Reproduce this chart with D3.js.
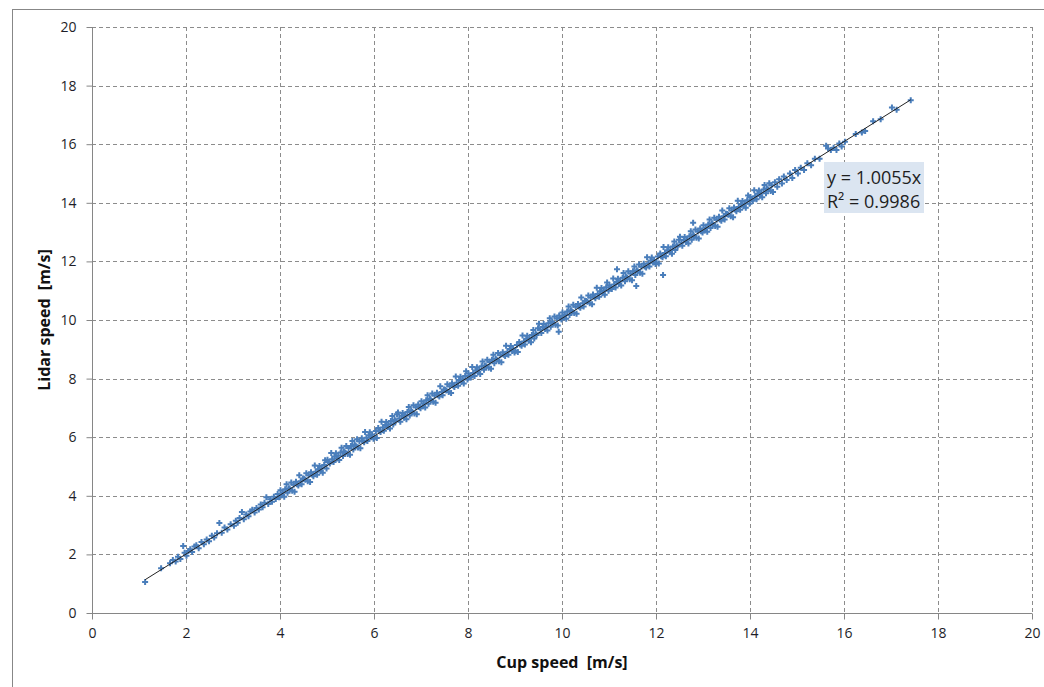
<!DOCTYPE html>
<html>
<head>
<meta charset="utf-8">
<script src="https://cdn.jsdelivr.net/npm/d3@7"></script>
<style>
  html, body { margin: 0; padding: 0; background: #fff; }
  svg { display: block; }
</style>
</head>
<body>
<div id="chart"></div>
<script>
"use strict";

// cup anemometer speed vs lidar speed, [cup, lidar] in m/s
var lowSpeed = [
  [1.13,1.06],[1.47,1.53],[1.66,1.70],[1.72,1.81],[1.78,1.76],[1.83,1.92],[1.88,1.84],[1.94,2.29],[1.97,2.06],[2.01,1.95],
  [2.05,2.12],[2.09,2.18],[2.13,2.08],[2.18,2.27],[2.22,2.31],[2.27,2.21],[2.33,2.42],[2.38,2.35],[2.44,2.51],[2.49,2.45],
  [2.55,2.64],[2.60,2.58],[2.66,2.72],[2.71,3.07],[2.76,2.74],[2.82,2.92],[2.88,2.85],[2.95,3.03],
  [3.02,2.98],[3.06,3.15],[3.10,3.08],[3.14,3.24],[3.19,3.45],[3.23,3.20],[3.28,3.36],[3.33,3.30],[3.37,3.46],[3.41,3.52],
  [3.46,3.43],[3.50,3.58],[3.55,3.53],[3.59,3.70],[3.63,3.61],[3.67,3.76],[3.71,3.95],[3.75,3.72],[3.79,3.88],[3.83,3.80],
  [3.87,3.97],[3.91,3.89],[3.95,4.06],[3.98,3.95]
];

var band4to8 = [
  [4.01,4.19],[4.04,4.02],[4.06,4.11],[4.09,3.97],[4.11,4.22],[4.14,4.39],[4.16,4.10],[4.19,4.26],[4.21,4.22],[4.24,4.45],
  [4.26,4.17],[4.29,4.38],[4.31,4.14],[4.34,4.48],[4.36,4.39],[4.39,4.35],[4.41,4.70],[4.44,4.50],[4.46,4.39],[4.49,4.59],
  [4.51,4.58],[4.54,4.55],[4.56,4.77],[4.59,4.50],[4.61,4.70],[4.64,4.47],[4.66,4.80],[4.69,4.72],[4.71,4.67],[4.74,5.03],
  [4.76,4.82],[4.79,4.72],[4.81,4.91],[4.84,5.02],[4.86,4.84],[4.89,4.94],[4.91,4.79],[4.94,5.05],[4.96,5.21],[4.99,4.93],
  [5.01,5.23],[5.04,5.15],[5.06,5.10],[5.09,5.46],[5.11,5.25],[5.14,5.15],[5.16,5.34],[5.19,5.45],[5.21,5.27],[5.24,5.37],
  [5.26,5.22],[5.29,5.48],[5.31,5.64],[5.34,5.36],[5.36,5.51],[5.39,5.48],[5.41,5.70],[5.44,5.43],[5.46,5.63],[5.49,5.40],
  [5.51,5.70],[5.54,5.87],[5.56,5.58],[5.59,5.74],[5.61,5.70],[5.64,5.93],[5.66,5.65],[5.69,5.86],[5.71,5.62],[5.74,5.96],
  [5.76,5.87],[5.79,5.83],[5.81,6.18],[5.84,5.98],[5.86,5.87],[5.89,6.07],[5.91,6.17],[5.94,6.00],[5.96,6.09],[5.99,5.95],
  [6.01,6.00],[6.04,6.21],[6.06,5.97],[6.09,6.31],[6.11,6.22],[6.14,6.18],[6.16,6.53],[6.19,6.33],[6.21,6.22],[6.24,6.42],
  [6.26,6.52],[6.29,6.35],[6.31,6.44],[6.34,6.30],[6.36,6.55],[6.39,6.72],[6.41,6.43],[6.44,6.59],[6.46,6.55],[6.49,6.78],
  [6.51,6.84],[6.54,6.64],[6.56,6.53],[6.59,6.73],[6.61,6.83],[6.64,6.66],[6.66,6.75],[6.69,6.61],[6.71,6.86],[6.74,7.03],
  [6.76,6.74],[6.79,6.90],[6.81,6.86],[6.84,7.09],[6.86,6.81],[6.89,7.02],[6.91,6.78],[6.94,7.12],[6.96,7.03],[6.99,6.99],
  [7.01,7.23],[7.04,7.06],[7.06,7.15],[7.09,7.01],[7.11,7.26],[7.14,7.43],[7.16,7.14],[7.19,7.30],[7.21,7.26],[7.24,7.49],
  [7.26,7.21],[7.29,7.42],[7.31,7.18],[7.34,7.52],[7.36,7.43],[7.39,7.39],[7.41,7.74],[7.44,7.54],[7.46,7.43],[7.49,7.63],
  [7.51,7.62],[7.54,7.59],[7.56,7.81],[7.59,7.54],[7.61,7.74],[7.64,7.51],[7.66,7.84],[7.69,7.76],[7.71,7.71],[7.74,8.07],
  [7.76,7.86],[7.79,7.76],[7.81,7.95],[7.84,8.06],[7.86,7.88],[7.89,7.98],[7.91,7.83],[7.94,8.09],[7.96,8.25],[7.99,7.97]
];

var band8to12 = [
  [8.01,8.17],[8.04,8.09],[8.06,8.04],[8.09,8.40],[8.11,8.19],[8.14,8.09],[8.16,8.28],[8.19,8.39],[8.21,8.21],[8.24,8.31],
  [8.26,8.16],[8.29,8.42],[8.31,8.58],[8.34,8.30],[8.36,8.45],[8.39,8.42],[8.41,8.64],[8.44,8.37],[8.46,8.57],[8.49,8.34],
  [8.51,8.64],[8.54,8.81],[8.56,8.52],[8.59,8.68],[8.61,8.64],[8.64,8.87],[8.66,8.59],[8.69,8.80],[8.71,8.56],[8.74,8.90],
  [8.76,8.81],[8.79,8.77],[8.81,9.12],[8.84,8.92],[8.86,8.81],[8.89,9.01],[8.91,9.11],[8.94,8.94],[8.96,9.03],[8.99,8.89],
  [9.01,8.94],[9.04,9.15],[9.06,8.91],[9.09,9.25],[9.11,9.16],[9.14,9.12],[9.16,9.47],[9.19,9.27],[9.21,9.16],[9.24,9.36],
  [9.26,9.46],[9.29,9.29],[9.31,9.38],[9.34,9.24],[9.36,9.49],[9.39,9.66],[9.41,9.37],[9.44,9.53],[9.46,9.49],[9.49,9.72],
  [9.51,9.87],[9.54,9.67],[9.56,9.56],[9.59,9.76],[9.61,9.86],[9.64,9.69],[9.66,9.78],[9.69,9.64],[9.71,9.89],[9.74,10.06],
  [9.76,9.77],[9.79,9.93],[9.81,9.89],[9.84,10.12],[9.86,9.84],[9.89,10.05],[9.91,9.81],[9.93,9.60],[9.94,10.15],[9.96,10.06],
  [9.99,10.02],
  [10.01,10.26],[10.04,10.09],[10.06,10.18],[10.09,10.04],[10.11,10.29],[10.14,10.46],[10.16,10.17],[10.19,10.33],[10.21,10.29],[10.24,10.52],
  [10.26,10.24],[10.29,10.45],[10.31,10.21],[10.34,10.55],[10.36,10.46],[10.39,10.42],[10.41,10.77],[10.44,10.57],[10.46,10.46],[10.49,10.66],
  [10.51,10.65],[10.54,10.62],[10.56,10.84],[10.59,10.57],[10.61,10.77],[10.64,10.54],[10.66,10.87],[10.69,10.79],[10.71,10.74],[10.74,11.10],
  [10.76,10.89],[10.79,10.79],[10.81,10.98],[10.84,11.09],[10.86,10.91],[10.89,11.01],[10.91,10.86],[10.94,11.12],[10.96,11.28],[10.99,11.00],
  [11.01,11.19],[11.04,11.11],[11.06,11.06],[11.09,11.42],[11.11,11.21],[11.14,11.11],[11.16,11.30],[11.17,11.73],[11.19,11.41],[11.21,11.23],
  [11.24,11.33],[11.26,11.18],[11.29,11.44],[11.31,11.60],[11.34,11.32],[11.36,11.47],[11.39,11.44],[11.41,11.66],[11.44,11.39],[11.46,11.59],
  [11.49,11.36],
  [11.51,11.66],[11.54,11.83],[11.56,11.54],[11.58,11.16],[11.59,11.70],[11.61,11.66],[11.64,11.89],[11.66,11.61],[11.69,11.82],[11.71,11.58],
  [11.74,11.92],[11.76,11.83],[11.79,11.79],[11.81,12.14],[11.84,11.94],[11.86,11.83],[11.89,12.03],[11.91,12.13],[11.94,11.96],[11.96,12.05],
  [11.99,11.91]
];

var band12to14 = [
  [12.01,11.96],[12.04,12.17],[12.06,11.93],[12.09,12.27],[12.11,12.18],[12.14,12.14],[12.15,11.54],[12.16,12.49],[12.19,12.29],[12.21,12.18],
  [12.24,12.38],[12.26,12.48],[12.29,12.31],[12.31,12.40],[12.34,12.26],[12.36,12.51],[12.39,12.68],[12.41,12.39],[12.44,12.55],[12.46,12.51],
  [12.49,12.74],
  [12.51,12.84],[12.54,12.64],[12.56,12.53],[12.59,12.73],[12.61,12.83],[12.64,12.66],[12.66,12.75],[12.69,12.61],[12.71,12.86],[12.74,13.03],
  [12.76,12.74],[12.79,13.32],[12.79,12.90],[12.81,12.86],[12.84,13.09],[12.86,12.81],[12.89,13.02],[12.91,12.78],[12.94,13.12],[12.96,13.03],
  [12.99,12.99],
  [13.01,13.23],[13.04,13.06],[13.06,13.15],[13.09,13.01],[13.11,13.26],[13.14,13.43],[13.16,13.14],[13.19,13.30],[13.21,13.26],[13.24,13.49],
  [13.26,13.21],[13.29,13.42],[13.31,13.18],[13.34,13.52],[13.36,13.43],[13.39,13.39],[13.41,13.74],[13.44,13.54],[13.46,13.43],[13.49,13.63],
  [13.51,13.62],[13.54,13.59],[13.56,13.81],[13.59,13.54],[13.61,13.74],[13.64,13.51],[13.66,13.84],[13.69,13.76],[13.71,13.71],[13.74,14.07],
  [13.76,13.86],[13.79,13.76],[13.81,13.95],[13.84,14.06],[13.86,13.88],[13.89,13.98],[13.91,13.83],[13.94,14.09],[13.96,14.25],[13.99,13.97],
  [14.01,14.20],[14.04,14.12],[14.06,14.07],[14.09,14.43],[14.11,14.22],[14.14,14.12],[14.16,14.31],[14.19,14.42],[14.21,14.24],[14.24,14.34],
  [14.26,14.19],[14.29,14.45],[14.31,14.61],[14.34,14.33],[14.36,14.48],[14.39,14.45],[14.41,14.67],[14.44,14.40],[14.46,14.60],[14.49,14.37]
];

var topSpeed = [
  [14.53,14.70],[14.58,14.55],[14.62,14.80],[14.68,14.66],[14.72,14.90],[14.78,14.78],[14.85,15.00],[14.90,14.85],[14.96,15.12],[15.02,15.00],
  [15.08,15.20],[15.15,15.12],[15.22,15.35],[15.30,15.28],[15.38,15.50],[15.48,15.50],[15.62,15.95],[15.66,15.85],[15.72,15.80],[15.78,15.88],
  [15.84,15.80],[15.90,16.02],[15.95,15.92],[16.02,16.08],[16.25,16.35],[16.38,16.40],[16.45,16.45],[16.62,16.78],[16.78,16.85],[17.02,17.25],
  [17.12,17.18],[17.42,17.50]
];

// linear trend through origin, as printed on the chart
var trendSlope = 1.0055;
var trendLabel = "y = 1.0055x";
var r2Label = "0.9986";

var xTicks = [0, 2, 4, 6, 8, 10, 12, 14, 16, 18, 20];
var yTicks = [0, 2, 4, 6, 8, 10, 12, 14, 16, 18, 20];

var W = 1044, H = 687;
var margin = {left: 92, top: 27, right: 12, bottom: 74};
var gridColor = "#8c8c8c";
var markerColor = "#4a7ebb";
var font = "'Open Sans', 'Noto Sans', sans-serif";

var svg = d3.select("#chart").append("svg")
    .attr("width", W)
    .attr("height", H);

svg.append("rect")
    .attr("width", W).attr("height", H)
    .attr("fill", "#fff");

// chart frame (runs off the right and bottom edge of the picture)
svg.append("rect")
    .attr("x", 12.5).attr("y", 9.5)
    .attr("width", 1100).attr("height", 700)
    .attr("fill", "none")
    .attr("stroke", "#878787")
    .attr("stroke-width", 1);

var x = d3.scaleLinear().domain([0, 20]).range([margin.left, W - margin.right]);
var y = d3.scaleLinear().domain([0, 20]).range([H - margin.bottom, margin.top]);

var plot = svg.append("g");

// dashed grid
plot.selectAll("line.vgrid").data(xTicks.filter(function(d) { return d > 0; }))
    .enter().append("line")
    .attr("class", "vgrid")
    .attr("x1", function(d) { return Math.round(x(d)) + 0.5; })
    .attr("x2", function(d) { return Math.round(x(d)) + 0.5; })
    .attr("y1", y(20)).attr("y2", y(0))
    .attr("stroke", gridColor)
    .attr("stroke-dasharray", "4,3");

plot.selectAll("line.hgrid").data(yTicks.filter(function(d) { return d > 0; }))
    .enter().append("line")
    .attr("class", "hgrid")
    .attr("x1", x(0)).attr("x2", x(20))
    .attr("y1", function(d) { return Math.round(y(d)) + 0.5; })
    .attr("y2", function(d) { return Math.round(y(d)) + 0.5; })
    .attr("stroke", gridColor)
    .attr("stroke-dasharray", "4,3");

// axes
var xAxis = d3.axisBottom(x).tickValues(xTicks).tickSize(6).tickPadding(9)
    .tickFormat(d3.format("d"));
var yAxis = d3.axisLeft(y).tickValues(yTicks).tickSize(6).tickPadding(10)
    .tickFormat(d3.format("d"));

var gx = svg.append("g")
    .attr("transform", "translate(0," + (Math.round(y(0)) + 0.5) + ")")
    .call(xAxis);
var gy = svg.append("g")
    .attr("transform", "translate(" + (Math.round(x(0)) + 0.5) + ",0)")
    .call(yAxis);

[gx, gy].forEach(function(g) {
    g.select(".domain").remove();
    g.selectAll(".tick line").attr("stroke", "#868686");
    g.selectAll(".tick text")
        .attr("fill", "#1e1e28")
        .style("font-family", font)
        .style("font-size", "14px");
});
gx.append("line").attr("x1", x(0)).attr("x2", x(20)).attr("stroke", "#868686");
gy.append("line").attr("y1", y(0)).attr("y2", y(20)).attr("stroke", "#868686");

// scatter
var points = lowSpeed.concat(band4to8, band8to12, band12to14, topSpeed);
var cross = "M-3,0H3M0,-3V3";

plot.selectAll("path.pt").data(points)
    .enter().append("path")
    .attr("class", "pt")
    .attr("d", cross)
    .attr("transform", function(d) { return "translate(" + x(d[0]) + "," + y(d[1]) + ")"; })
    .attr("stroke", markerColor)
    .attr("stroke-width", 2)
    .attr("fill", "none");

// trend line over the data range
var cupRange = d3.extent(points, function(d) { return d[0]; });
var line = d3.line()
    .x(function(d) { return x(d); })
    .y(function(d) { return y(trendSlope * d); });

plot.append("path")
    .datum(cupRange)
    .attr("d", line)
    .attr("stroke", "#222")
    .attr("stroke-width", 1)
    .attr("fill", "none");

// equation label
var eq = svg.append("g").attr("transform", "translate(824,162)");
eq.append("rect")
    .attr("width", 100).attr("height", 51)
    .attr("fill", "#dbe5f1");
var eqText = eq.append("text")
    .attr("fill", "#1e1e1e")
    .style("font-family", font)
    .style("font-size", "18px");
eqText.append("tspan").attr("x", 3).attr("y", 22).text(trendLabel);
eqText.append("tspan").attr("x", 3).attr("y", 46).text("R\u00b2 = " + r2Label);

// axis titles
svg.append("text")
    .attr("x", (x(0) + x(20)) / 2)
    .attr("y", 668)
    .attr("text-anchor", "middle")
    .attr("fill", "#111")
    .style("font-family", font)
    .style("font-weight", "bold")
    .style("font-size", "16px")
    .style("white-space", "pre")
    .text("Cup speed  [m/s]");

svg.append("text")
    .attr("transform", "translate(50," + ((y(0) + y(20)) / 2) + ") rotate(-90)")
    .attr("text-anchor", "middle")
    .attr("fill", "#111")
    .style("font-family", font)
    .style("font-weight", "bold")
    .style("font-size", "16px")
    .style("white-space", "pre")
    .text("Lidar speed  [m/s]");
</script>
</body>
</html>
